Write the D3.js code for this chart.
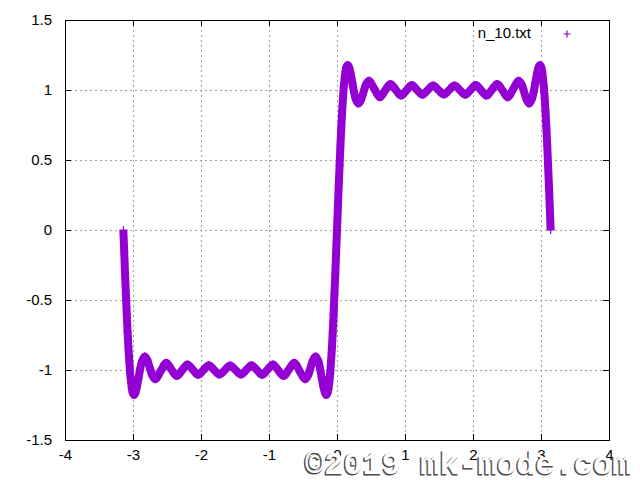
<!DOCTYPE html>
<html>
<head>
<meta charset="utf-8">
<script src="https://cdn.jsdelivr.net/npm/d3@7"></script>
<style>
  body { margin: 0; background: #fff; }
  svg { display: block; font-family: "Liberation Sans", Arial, sans-serif; }
</style>
</head>
<body>
<svg width="640" height="480"></svg>
<script>
// points (x, y)
const xs = [
  -3.142, -3.129, -3.117, -3.104, -3.092, -3.079, -3.067, -3.054, -3.042, -3.029, -3.017, -3.004,
  -2.985, -2.967, -2.942, -2.917, -2.892, -2.867, -2.827, -2.792, -2.767, -2.742, -2.717, -2.670,
  -2.592, -2.513, -2.435, -2.356, -2.278, -2.199, -2.121, -2.042, -1.963, -1.885, -1.806, -1.728,
  -1.649, -1.571, -1.492, -1.414, -1.335, -1.257, -1.178, -1.100, -1.021, -0.942, -0.864, -0.785,
  -0.707, -0.628, -0.550, -0.471, -0.425, -0.400, -0.375, -0.350, -0.314, -0.275, -0.250, -0.225,
  -0.200, -0.175, -0.157, -0.138, -0.125, -0.113, -0.100, -0.088, -0.075, -0.063, -0.050, -0.038,
  -0.025, -0.013,
  0.000,
  0.013, 0.025, 0.038, 0.050, 0.063, 0.075, 0.088, 0.100, 0.113, 0.125, 0.138, 0.157,
  0.175, 0.200, 0.225, 0.250, 0.275, 0.314, 0.350, 0.375, 0.400, 0.425, 0.471, 0.550,
  0.628, 0.707, 0.785, 0.864, 0.942, 1.021, 1.100, 1.178, 1.257, 1.335, 1.414, 1.492,
  1.571, 1.649, 1.728, 1.806, 1.885, 1.963, 2.042, 2.121, 2.199, 2.278, 2.356, 2.435,
  2.513, 2.592, 2.670, 2.717, 2.742, 2.767, 2.792, 2.827, 2.867, 2.892, 2.917, 2.942,
  2.967, 2.985, 3.004, 3.017, 3.029, 3.042, 3.054, 3.067, 3.079, 3.092, 3.104, 3.117,
  3.129, 3.142
];
const ys = [
  -0.000, -0.159, -0.314, -0.462, -0.602, -0.730, -0.843, -0.941, -1.022, -1.085, -1.132, -1.163,
  -1.179, -1.167, -1.119, -1.053, -0.987, -0.935, -0.903, -0.926, -0.962, -1.002, -1.038, -1.066,
  -1.007, -0.948, -0.996, -1.043, -1.002, -0.960, -0.998, -1.035, -1.000, -0.966, -1.000, -1.033,
  -1.000, -0.968, -1.000, -1.033, -1.000, -0.966, -1.000, -1.035, -0.998, -0.960, -1.002, -1.043,
  -0.996, -0.948, -1.007, -1.066, -1.038, -1.002, -0.962, -0.926, -0.903, -0.935, -0.987, -1.053,
  -1.119, -1.167, -1.179, -1.163, -1.132, -1.085, -1.022, -0.941, -0.843, -0.730, -0.602, -0.462,
  -0.314, -0.159,
  0.000,
  0.159, 0.314, 0.462, 0.602, 0.730, 0.843, 0.941, 1.022, 1.085, 1.132, 1.163, 1.179,
  1.167, 1.119, 1.053, 0.987, 0.935, 0.903, 0.926, 0.962, 1.002, 1.038, 1.066, 1.007,
  0.948, 0.996, 1.043, 1.002, 0.960, 0.998, 1.035, 1.000, 0.966, 1.000, 1.033, 1.000,
  0.968, 1.000, 1.033, 1.000, 0.966, 1.000, 1.035, 0.998, 0.960, 1.002, 1.043, 0.996,
  0.948, 1.007, 1.066, 1.038, 1.002, 0.962, 0.926, 0.903, 0.935, 0.987, 1.053, 1.119,
  1.167, 1.179, 1.163, 1.132, 1.085, 1.022, 0.941, 0.843, 0.730, 0.602, 0.462, 0.314,
  0.159, 0.000
];

const xTicks = [-4, -3, -2, -1, 0, 1, 2, 3, 4];
const yTicks = [-1.5, -1, -0.5, 0, 0.5, 1, 1.5];
const seriesName = "n_10.txt";
const watermark = "\u00a92019 mk-mode.com";

const svg = d3.select("svg");
const color = "#9400d3";

const plotLeft = 65, plotRight = 609, plotTop = 20, plotBottom = 440;

const x = d3.scaleLinear().domain([-4, 4]).range([plotLeft, plotRight]);
const y = d3.scaleLinear().domain([-1.5, 1.5]).range([plotBottom, plotTop]);

const points = xs.map((d, i) => [d, ys[i]]);

// grid
const grid = svg.append("g")
  .attr("stroke", "#a0a0a0")
  .attr("stroke-width", 1)
  .attr("stroke-dasharray", "2,3")
  .attr("shape-rendering", "crispEdges");

grid.selectAll(".gx")
  .data(xTicks.slice(1, -1))
  .enter()
  .append("line")
  .attr("x1", d => x(d)).attr("x2", d => x(d))
  .attr("y1", plotTop).attr("y2", plotBottom);

grid.selectAll(".gy")
  .data(yTicks.slice(1, -1))
  .enter()
  .append("line")
  .attr("x1", plotLeft).attr("x2", plotRight)
  .attr("y1", d => y(d)).attr("y2", d => y(d));

// axes, ticks pointing inward, mirrored on top/right
const fmt = d => String(d);

svg.append("g")
  .attr("transform", `translate(0,${plotBottom})`)
  .call(d3.axisBottom(x).tickValues(xTicks).tickFormat(fmt).tickSizeInner(-6).tickSizeOuter(0).tickPadding(9));
svg.append("g")
  .attr("transform", `translate(${plotLeft},0)`)
  .call(d3.axisLeft(y).tickValues(yTicks).tickFormat(fmt).tickSizeInner(-6).tickSizeOuter(0).tickPadding(13));
svg.append("g")
  .attr("transform", `translate(0,${plotTop})`)
  .call(d3.axisTop(x).tickValues(xTicks).tickFormat("").tickSizeInner(-6).tickSizeOuter(0));
svg.append("g")
  .attr("transform", `translate(${plotRight},0)`)
  .call(d3.axisRight(y).tickValues(yTicks).tickFormat("").tickSizeInner(-6).tickSizeOuter(0));

svg.selectAll(".domain").remove();
svg.selectAll(".tick line").attr("shape-rendering", "crispEdges");
svg.selectAll(".tick text")
  .attr("font-family", "'Liberation Sans', Arial, sans-serif")
  .attr("font-size", 15)
  .attr("fill", "#000");

// border
svg.append("rect")
  .attr("x", plotLeft).attr("y", plotTop)
  .attr("width", plotRight - plotLeft).attr("height", plotBottom - plotTop)
  .attr("fill", "none")
  .attr("stroke", "#000")
  .attr("shape-rendering", "crispEdges");

// the dense band of points
const line = d3.line()
  .x(d => x(d[0]))
  .y(d => y(d[1]))
  .curve(d3.curveCatmullRom);

svg.append("path")
  .datum(points)
  .attr("d", line)
  .attr("fill", "none")
  .attr("stroke", color)
  .attr("stroke-width", 8)
  .attr("stroke-linejoin", "round");

const plus = (px, py, r) => `M${px - r},${py}H${px + r}M${px},${py - r}V${py + r}`;

svg.append("g")
  .selectAll("path")
  .data(points)
  .enter()
  .append("path")
  .attr("d", d => plus(x(d[0]), y(d[1]), 4))
  .attr("stroke", color)
  .attr("stroke-width", 1.2)
  .attr("fill", "none");

// key
svg.append("text")
  .attr("x", 531)
  .attr("y", 38)
  .attr("text-anchor", "end")
  .attr("font-size", 15)
  .text(seriesName);

svg.append("path")
  .attr("d", plus(567, 34, 3.5))
  .attr("stroke", color)
  .attr("stroke-width", 1.2);

// watermark from the source image
const wm = svg.append("g")
  .attr("font-family", "'Liberation Mono', 'DejaVu Sans Mono', monospace")
  .attr("font-weight", "bold")
  .attr("font-size", 32);

wm.append("text")
  .attr("x", 304).attr("y", 475)
  .attr("fill", "#666")
  .attr("stroke", "#444")
  .attr("stroke-width", 1)
  .text(watermark);

wm.append("text")
  .attr("x", 305).attr("y", 474)
  .attr("fill", "#fff")
  .text(watermark);
</script>
</body>
</html>
